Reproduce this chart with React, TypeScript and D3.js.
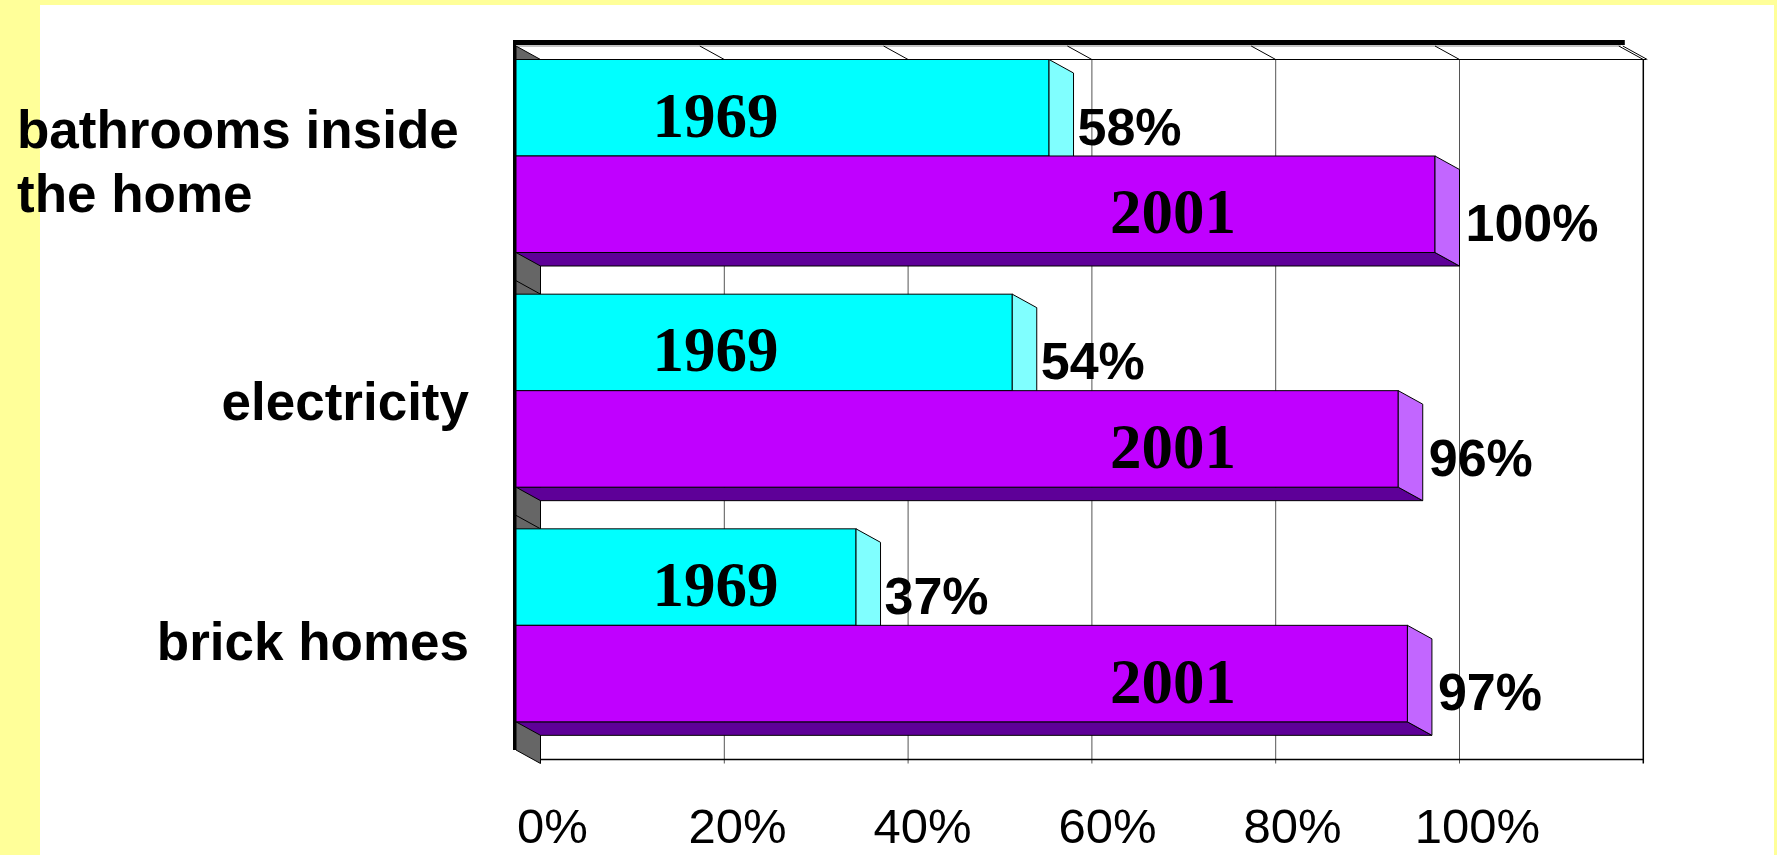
import React, { useEffect } from "react";
import * as d3 from "d3";

// Share of homes with each amenity, 1969 vs 2001
const categories = ["bathrooms inside the home", "electricity", "brick homes"];
const categoryLines = [["bathrooms inside", "the home"], ["electricity"], ["brick homes"]];
const seriesYears = ["1969", "2001"];
const values1969 = [58, 54, 37];
const values2001 = [100, 96, 97];
const xTicks = [0, 20, 40, 60, 80, 100];
const xTickLabels = ["0%", "20%", "40%", "60%", "80%", "100%"];
const gridValues = [20, 40, 60, 80, 100, 120];

const W = 1777;
const H = 855;

// 3D depth offset of the plot box (back wall sits down and to the right)
const DX = 24.5;
const DY = 13.5;

const FRONT_TOP = 46;
const FRONT_BOTTOM = 750;
const X0 = 516;

const colors = {
  c1969: { front: "#00FFFF", side: "#80FFFF", bottom: "#00A0A0" },
  c2001: { front: "#C000FF", side: "#C266FF", bottom: "#5E0098" },
};

export default function App() {
  useEffect(() => {
    document.body.style.margin = "0";
  }, []);

  const x = d3.scaleLinear().domain([0, 120]).range([X0, X0 + 120 * 9.19]);
  const xb = (v: number) => x(v) + DX;
  const y = d3.scaleBand<string>().domain(categories).range([FRONT_TOP, FRONT_BOTTOM]).paddingInner(0).paddingOuter(0);
  // category axis labels sit on a slightly wider band than the bars
  const yLabel = d3.scaleBand<string>().domain(categories).range([41, 761]);
  const barH = 96.5;

  const backTop = FRONT_TOP + DY;
  const backBottom = FRONT_BOTTOM + DY;

  const pts = (p: [number, number][]) => p.map((q) => q.join(",")).join(" ");

  const bar = (key: string, v: number, top: number, col: { front: string; side: string; bottom: string }) => {
    const xf = x(v);
    const bot = top + barH;
    return (
      <g key={key}>
        <polygon
          points={pts([[X0, bot], [xf, bot], [xf + DX, bot + DY], [X0 + DX, bot + DY]])}
          fill={col.bottom}
          stroke="#000"
          strokeWidth={1}
        />
        <rect x={X0} y={top} width={xf - X0} height={barH} fill={col.front} stroke="#000" strokeWidth={1} />
        <polygon
          points={pts([[xf, top], [xf + DX, top + DY], [xf + DX, bot + DY], [xf, bot]])}
          fill={col.side}
          stroke="#000"
          strokeWidth={1}
        />
      </g>
    );
  };

  const yearLabelAt = [21.7, 71.5];

  return (
    <svg
      width={W}
      height={H}
      viewBox={`0 0 ${W} ${H}`}
      style={{ display: "block", position: "absolute", left: 0, top: 0 }}
    >
      {/* page frame */}
      <rect x={0} y={0} width={W} height={H} fill="#FFFF99" />
      <rect x={40} y={5} width={W - 43} height={H - 5} fill="#FFFFFF" />

      {/* back wall gridlines */}
      {gridValues.map((v) => (
        <line key={"g" + v} x1={xb(v)} x2={xb(v)} y1={backTop} y2={backBottom} stroke={v === 120 ? "#000" : "#555"} strokeWidth={v === 120 ? 1.5 : 1} />
      ))}
      <line x1={xb(0)} x2={xb(120) + 3} y1={backTop} y2={backTop} stroke="#000" strokeWidth={1.2} />
      <line x1={xb(0)} x2={xb(120)} y1={backBottom - 4} y2={backBottom - 4} stroke="#000" strokeWidth={1.5} />

      {/* top edge of the box */}
      <line x1={X0} x2={x(120) + 2} y1={FRONT_TOP} y2={FRONT_TOP} stroke="#888" strokeWidth={1} />
      {gridValues.map((v) => (
        <line key={"t" + v} x1={x(v)} x2={xb(v)} y1={FRONT_TOP} y2={backTop} stroke="#000" strokeWidth={1} />
      ))}
      <line x1={x(120) + 4} x2={xb(120) + 4} y1={FRONT_TOP} y2={backTop} stroke="#000" strokeWidth={1} />
      <rect x={513} y={40} width={x(120) + 6 - 513} height={5} fill="#000" />

      {/* left wall */}
      <polygon
        points={pts([[X0, FRONT_TOP], [X0 + DX, backTop], [X0 + DX, backBottom], [X0, FRONT_BOTTOM]])}
        fill="#666666"
        stroke="#000"
        strokeWidth={1}
      />
      {categories.slice(1).map((c) => (
        <line key={"w" + c} x1={X0} y1={y(c)!} x2={X0 + DX} y2={y(c)! + DY} stroke="#000" strokeWidth={1} />
      ))}

      {/* bars */}
      {categories.map((c, i) => {
        const top = y(c)! + DY;
        return (
          <g key={c}>
            {bar(c + "a", values1969[i], top, colors.c1969)}
            {bar(c + "b", values2001[i], top + barH, colors.c2001)}
          </g>
        );
      })}

      {/* left edge */}
      <rect x={513} y={40} width={3} height={FRONT_BOTTOM - 40} fill="#000" />

      {/* year labels inside bars */}
      {categories.map((c) => {
        const top = y(c)! + DY;
        return (
          <g key={"yl" + c} fontFamily="'Liberation Serif', 'Times New Roman', serif" fontWeight="bold" fontSize={63} textAnchor="middle">
            <text x={x(yearLabelAt[0])} y={top + barH / 2 + 8} dominantBaseline="central">{seriesYears[0]}</text>
            <text x={x(yearLabelAt[1])} y={top + barH + barH / 2 + 8} dominantBaseline="central">{seriesYears[1]}</text>
          </g>
        );
      })}

      {/* value labels */}
      {categories.map((c, i) => {
        const top = y(c)! + DY;
        const c1 = top + barH / 2 + DY / 2;
        const c2 = top + barH * 1.5 + DY / 2;
        return (
          <g key={"vl" + c} fontFamily="'Liberation Sans', Arial, sans-serif" fontWeight="bold" fontSize={52}>
            <text x={xb(values1969[i]) + 4} y={c1 + 30}>{values1969[i]}%</text>
            <text x={xb(values2001[i]) + 6} y={c2 + 30}>{values2001[i]}%</text>
          </g>
        );
      })}

      {/* category labels */}
      {categories.map((c, i) => {
        const lines = categoryLines[i];
        const center = yLabel(c)! + yLabel.bandwidth() / 2;
        const lh = 64;
        const first = center - ((lines.length - 1) * lh) / 2 + 19;
        const multi = lines.length > 1;
        return (
          <text
            key={"cl" + c}
            fontFamily="'Liberation Sans', Arial, sans-serif"
            fontWeight="bold"
            fontSize={53}
            textAnchor={multi ? "start" : "end"}
          >
            {lines.map((ln, k) => (
              <tspan key={k} x={multi ? 17 : 469} y={first + k * lh}>{ln}</tspan>
            ))}
          </text>
        );
      })}

      {/* value axis labels */}
      {xTicks.map((v, i) => (
        <text
          key={"xt" + v}
          x={xb(v) + 12 + v * 0.06}
          y={843}
          textAnchor="middle"
          fontFamily="'Liberation Sans', Arial, sans-serif"
          fontSize={49}
        >
          {xTickLabels[i]}
        </text>
      ))}
    </svg>
  );
}
